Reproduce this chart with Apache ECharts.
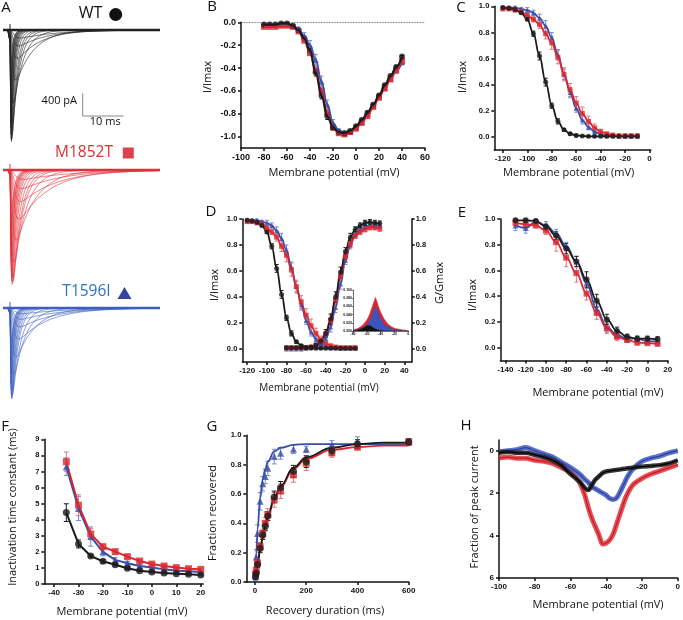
<!DOCTYPE html>
<html><head><meta charset="utf-8">
<script src="https://cdn.jsdelivr.net/npm/echarts@6/dist/echarts.min.js"></script>
<style>html,body{margin:0;padding:0;background:#fff}#c{width:683px;height:620px}</style>
</head><body><div id="c"></div>
<script>
// ---------- DATA ----------
// Panel B: I-V relationship (I/Imax)
const ivV  = [-80,-75,-70,-65,-60,-55,-50,-45,-40,-35,-30,-25,-20,-15,-10,-5,0,5,10,15,20,25,30,35,40];
const ivWT = [-0.02,-0.02,-0.02,-0.01,-0.01,-0.03,-0.07,-0.14,-0.25,-0.44,-0.64,-0.82,-0.92,-0.96,-0.97,-0.95,-0.91,-0.855,-0.79,-0.72,-0.64,-0.55,-0.47,-0.39,-0.30];
const ivM  = [-0.04,-0.04,-0.04,-0.03,-0.03,-0.04,-0.08,-0.16,-0.27,-0.42,-0.60,-0.79,-0.92,-0.97,-0.98,-0.96,-0.93,-0.88,-0.82,-0.74,-0.66,-0.58,-0.50,-0.42,-0.34];
const ivT  = [-0.02,-0.02,-0.02,-0.02,-0.02,-0.03,-0.06,-0.12,-0.20,-0.33,-0.52,-0.72,-0.88,-0.95,-0.97,-0.96,-0.92,-0.87,-0.80,-0.73,-0.65,-0.57,-0.49,-0.42,-0.35];
const ivWTe = [0.005,0.005,0.005,0.005,0.005,0.005,0.01,0.015,0.02,0.03,0.03,0.03,0.02,0.015,0.01,0.01,0.01,0.01,0.01,0.01,0.01,0.01,0.01,0.01,0.01];
const ivMe  = [0.01,0.01,0.01,0.01,0.01,0.01,0.01,0.02,0.02,0.03,0.03,0.03,0.02,0.015,0.015,0.015,0.015,0.015,0.015,0.015,0.015,0.015,0.015,0.015,0.015];
const ivTe  = [0.01,0.01,0.01,0.01,0.01,0.01,0.02,0.03,0.04,0.05,0.05,0.04,0.03,0.02,0.02,0.02,0.02,0.02,0.025,0.025,0.025,0.025,0.025,0.025,0.02];

// Panel C / D: steady-state inactivation
const inV  = [-120,-115,-110,-105,-100,-95,-90,-85,-80,-75,-70,-65,-60,-55,-50,-45,-40,-35,-30,-25,-20,-15,-10];
const inWT = [0.99,0.985,0.975,0.95,0.90,0.79,0.62,0.42,0.24,0.12,0.055,0.025,0.012,0.008,0.005,0.005,0.005,0.005,0.005,0.005,0.005,0.005,0.005];
const inM  = [0.98,0.98,0.97,0.96,0.93,0.90,0.86,0.79,0.72,0.61,0.48,0.36,0.26,0.18,0.12,0.07,0.04,0.025,0.015,0.01,0.01,0.01,0.01];
const inT  = [0.99,0.99,0.99,0.98,0.97,0.95,0.91,0.85,0.76,0.63,0.48,0.34,0.22,0.13,0.075,0.04,0.02,0.01,0.01,0.005,0.005,0.005,0.005];
const inWTe = [0.01,0.01,0.01,0.01,0.01,0.02,0.03,0.03,0.02,0.02,0.01,0.01,0.01,0.005,0.005,0.005,0.005,0.005,0.005,0.005,0.005,0.005,0.005];
const inMe  = [0.01,0.01,0.01,0.01,0.02,0.02,0.03,0.04,0.05,0.05,0.05,0.05,0.05,0.05,0.04,0.03,0.02,0.01,0.01,0.01,0.01,0.01,0.01];
const inTe  = [0.01,0.01,0.01,0.01,0.02,0.02,0.03,0.04,0.04,0.04,0.04,0.04,0.03,0.03,0.02,0.01,0.01,0.01,0.01,0.01,0.01,0.01,0.01];

// Panel D: activation (G/Gmax)
const actV  = [-80,-75,-70,-65,-60,-55,-50,-45,-40,-35,-30,-25,-20,-15,-10,-5,0,5,10,15];
const actWT = [0.01,0.01,0.01,0.01,0.01,0.015,0.03,0.06,0.12,0.23,0.40,0.59,0.75,0.86,0.92,0.95,0.97,0.975,0.97,0.965];
const actM  = [0.01,0.01,0.01,0.01,0.01,0.015,0.03,0.06,0.12,0.22,0.38,0.56,0.71,0.81,0.87,0.90,0.92,0.935,0.935,0.925];
const actT  = [0.0,0.0,0.0,0.0,0.005,0.01,0.02,0.04,0.08,0.17,0.32,0.50,0.68,0.80,0.88,0.92,0.94,0.95,0.95,0.95];
const actE  = [0.005,0.005,0.005,0.005,0.005,0.01,0.01,0.02,0.03,0.04,0.04,0.04,0.03,0.03,0.02,0.02,0.02,0.02,0.02,0.02];
// Inset: window current
const winV  = [-80,-75,-70,-65,-60,-57.5,-55,-52.5,-50,-47.5,-45,-42.5,-40,-35,-30,-25,-20,-15,-10,-5,0];
const winM  = [0.003,0.005,0.009,0.016,0.027,0.035,0.045,0.058,0.07,0.082,0.07,0.057,0.046,0.029,0.018,0.011,0.007,0.005,0.003,0.002,0.001];
const winT  = [0.001,0.002,0.004,0.008,0.015,0.02,0.028,0.037,0.048,0.062,0.05,0.039,0.03,0.017,0.01,0.006,0.003,0.002,0.001,0.0005,0];
const winWT = [0.001,0.002,0.004,0.008,0.013,0.016,0.013,0.01,0.007,0.005,0.003,0.002,0.001,0.0005,0,0,0,0,0,0,0];

// Panel E
const eV  = [-130,-120,-110,-100,-90,-80,-70,-60,-50,-40,-30,-20,-10,0,10];
const eWT = [0.99,0.99,0.985,0.94,0.87,0.77,0.67,0.53,0.365,0.22,0.13,0.085,0.07,0.07,0.065];
const eM  = [0.97,0.96,0.95,0.91,0.82,0.70,0.58,0.42,0.27,0.15,0.085,0.06,0.04,0.035,0.03];
const eT  = [0.95,0.93,0.98,0.95,0.89,0.79,0.67,0.50,0.30,0.16,0.10,0.07,0.07,0.05,0.05];
const eWTe = [0.01,0.01,0.01,0.02,0.03,0.04,0.04,0.06,0.05,0.04,0.03,0.02,0.02,0.02,0.02];
const eMe  = [0.02,0.02,0.02,0.03,0.07,0.07,0.07,0.05,0.05,0.04,0.03,0.02,0.02,0.01,0.01];
const eTe  = [0.04,0.04,0.02,0.03,0.03,0.03,0.04,0.04,0.04,0.04,0.03,0.02,0.02,0.02,0.03];

// Panel F: inactivation time constant (ms)
const fV  = [-35,-30,-25,-20,-15,-10,-5,0,5,10,15,20];
const fWT = [4.44,2.49,1.74,1.41,1.20,0.98,0.83,0.75,0.68,0.64,0.60,0.56];
const fM  = [7.61,4.90,3.11,2.32,2.01,1.70,1.43,1.24,1.12,1.02,0.95,0.91];
const fT  = [7.30,4.70,2.95,2.00,1.50,1.29,1.12,1.02,0.91,0.83,0.79,0.75];
const fWTe = [0.55,0.25,0.08,0.1,0.08,0.06,0.05,0.05,0.05,0.05,0.05,0.05];
const fMe  = [0.6,0.65,0.35,0.15,0.15,0.12,0.1,0.1,0.1,0.1,0.1,0.08];
const fTe  = [0.55,0.75,0.6,0.25,0.15,0.12,0.1,0.1,0.08,0.08,0.08,0.08];

// Panel G: recovery from inactivation
const gT  = [2,5,10,20,30,40,50,75,100,150,200,300,400,600];
const gWT = [0.035,0.06,0.12,0.23,0.32,0.38,0.45,0.58,0.645,0.755,0.82,0.895,0.94,0.955];
const gM  = [0.05,0.08,0.13,0.24,0.33,0.40,0.46,0.56,0.62,0.73,0.81,0.88,0.92,0.955];
const gTr = [0.04,0.17,0.33,0.55,0.67,0.72,0.775,0.855,0.877,0.905,0.905,0.934,0.96,0.955];
const gWTe = [0.01,0.02,0.02,0.03,0.03,0.03,0.03,0.04,0.04,0.04,0.04,0.03,0.03,0.02];
const gMe  = [0.01,0.02,0.02,0.03,0.03,0.04,0.04,0.05,0.05,0.05,0.05,0.03,0.02,0.02];
const gTre = [0.03,0.05,0.06,0.06,0.05,0.05,0.05,0.05,0.04,0.03,0.02,0.03,0.03,0.02];
const gFitT  = [0,5,10,20,30,40,50,75,100,150,200,300,400,500,600];
const gFitWT = [0.02,0.07,0.12,0.22,0.30,0.38,0.45,0.57,0.655,0.78,0.85,0.915,0.94,0.95,0.95];
const gFitM  = [0.03,0.08,0.13,0.22,0.30,0.37,0.44,0.56,0.645,0.77,0.84,0.90,0.92,0.93,0.93];
const gFitTr = [0.02,0.20,0.36,0.57,0.70,0.77,0.82,0.89,0.915,0.935,0.94,0.94,0.94,0.94,0.94];

// Panel H: ramp currents (fraction of peak current)
const hV  = [-100,-95,-90,-85,-80,-75,-70,-65,-60,-55,-52,-50,-48,-46,-44,-42,-40,-38,-36,-34,-32,-30,-28,-25,-20,-15,-10,-5,0];
const hWT = [0.1,0.05,0.1,0.1,0.2,0.3,0.45,0.7,1.1,1.45,1.75,1.85,1.6,1.35,1.2,1.05,0.98,0.95,0.92,0.9,0.88,0.85,0.83,0.8,0.75,0.72,0.68,0.6,0.45];
const hM  = [0.35,0.3,0.35,0.35,0.45,0.5,0.6,0.8,1.0,1.5,2.1,2.7,3.2,3.6,4.0,4.4,4.35,4.2,3.9,3.4,2.9,2.4,2.0,1.6,1.3,1.1,0.95,0.8,0.65];
const hT  = [0.05,0.0,-0.05,-0.15,0.0,0.15,0.3,0.55,0.8,1.1,1.35,1.5,1.7,1.8,1.9,2.0,2.1,2.25,2.3,2.2,1.9,1.55,1.2,0.85,0.5,0.35,0.25,0.1,0.0];

// Panel A: step voltages used for the trace families, decay extensions outside F range
const trV = [-50,-45,-40,-35,-30,-25,-20,-15,-10,-5,0,5,10,15,20,25,30,35,40];
const tauLoWT = [9,7,5.8], tauHiWT = [0.54,0.52,0.5,0.48];
const tauLoM  = [12,10,9],  tauHiM  = [0.88,0.86,0.84,0.82];
const tauLoT  = [11,9.5,8.5], tauHiT = [0.72,0.7,0.68,0.66];
const peakPA = [2030, 2070, 1670]; // WT, M1852T, T1596I

// ---------- STYLE ----------
const K='#1b1b1b', R='#d9282f', B='#3a4ea8', RE='#e4757c', BE='#6f8ed6';
const TF='Liberation Sans, Arial, sans-serif', NF='Open Sans, sans-serif';

const grids = [
 {left:3, top:18.6, width:157, height:136.4},
 {left:3, top:158.6, width:157, height:136.4},
 {left:3, top:296.6, width:157, height:136.4},
 {left:241, top:22.3, width:184, height:125.8},
 {left:494.3, top:6.3, width:156.5, height:143.8},
 {left:242.3, top:219, width:169.4, height:143},
 {left:353, top:290, width:55.3, height:41},
 {left:500.3, top:219, width:167.4, height:141.6},
 {left:44.3, top:439.3, width:158.9, height:144.7},
 {left:246.3, top:435.3, width:162.4, height:146.7},
 {left:499, top:440.1, width:182.7, height:137.9}
];

function ax(kind, gi, min, max, vals, o) {
  o = o || {};
  const lw = o.lw || 1.5;
  const a = {type:'value', gridIndex:gi, min:min, max:max, inverse:!!o.inv,
    axisLine:{show:!o.hide, onZero:false, lineStyle:{color:'#111', width:lw}},
    axisTick:{show:!o.hide, length:o.tl||3, customValues:vals, lineStyle:{color:'#111', width:lw}},
    axisLabel:{show:!o.hide, customValues:vals, formatter:o.fmt||(v=>String(v)), fontSize:o.fs||8,
      fontWeight:'bold', color:'#111', fontFamily:TF, margin:o.m||4},
    splitLine:{show:false}};
  if (o.pos) a.position = o.pos;
  return a;
}
const f1 = v=>v.toFixed(1), f3=v=>v.toFixed(3);
const r = (a,b,s)=>{const out=[];for(let v=a;v<=b+1e-9;v+=s) out.push(+v.toFixed(4));return out;};

const xAxis = [
  ax('x',0,-1.75,37.5,[],{hide:true}),
  ax('x',1,-1.75,37.5,[],{hide:true}),
  ax('x',2,-1.75,37.5,[],{hide:true}),
  ax('x',3,-100,60,r(-100,60,20),{fs:9,m:5}),
  ax('x',4,-127,1,r(-120,0,20),{fs:8,m:5}),
  ax('x',5,-125,47.5,r(-120,40,20),{fs:8,m:5}),
  ax('x',6,-80,0,r(-80,0,20),{fs:3.5,m:1,lw:0.6,tl:1.2}),
  ax('x',7,-145,20,r(-140,20,20),{fs:8,m:5}),
  ax('x',8,-44,21,r(-40,20,10),{fs:8,m:5}),
  ax('x',9,-34,600,[0,200,400,600],{fs:8,m:5}),
  ax('x',10,-100,0,r(-100,0,20),{fs:8,m:5})
];
const yAxis = [
  ax('y',0,-2200,200,[],{hide:true}),
  ax('y',1,-2200,200,[],{hide:true}),
  ax('y',2,-2200,200,[],{hide:true}),
  ax('y',3,-1.1,0,r(-1,0,0.2),{fs:9,m:5,fmt:f1}),
  ax('y',4,-0.1,1,r(0,1,0.2),{fs:7.5,m:5,fmt:f1}),
  ax('y',5,-0.1,1,r(0,1,0.2),{fs:7.5,m:5,fmt:f1}),
  ax('y',6,0,0.1,r(0,0.1,0.02),{fs:3.5,m:1,lw:0.6,tl:1.2,fmt:f3}),
  ax('y',7,-0.1,1,r(0,1,0.2),{fs:7.5,m:5,fmt:f1}),
  ax('y',8,0,9,r(0,9,1),{fs:7.5,m:5}),
  ax('y',9,0,1,r(0,1,0.2),{fs:7.5,m:5,fmt:f1}),
  ax('y',10,-0.5,6,[0,2,4,6],{fs:8,m:5,inv:true}),
  ax('y',5,-0.1,1,r(0,1,0.2),{fs:7.5,m:4,fmt:f1,pos:'right'})
];

const S = [];
function pts(gi, xs, ys, sym, color, size, yi) {
  S.push({type:'scatter', xAxisIndex:gi, yAxisIndex:(yi==null?gi:yi), symbol:sym, symbolSize:size,
    itemStyle:{color:color}, data:xs.map((x,i)=>[x,ys[i]]), z:4, silent:true});
}
function line(gi, xs, ys, color, w, o) {
  o=o||{};
  const s = {type:'line', xAxisIndex:gi, yAxisIndex:(o.yi==null?gi:o.yi), showSymbol:false, symbol:'none',
    smooth:o.smooth||false, lineStyle:{color:color, width:w, opacity:(o.op==null?1:o.op)},
    data:xs.map((x,i)=>[x,ys[i]]), z:(o.z==null?3:o.z), silent:true};
  if (o.mono) s.smoothMonotone = o.mono;
  if (o.area) s.areaStyle = {color:o.area, opacity:1};
  if (o.mark) s.markLine = o.mark;
  S.push(s);
}
function err(gi, xs, ys, es, color, cap, yi) {
  S.push({type:'custom', xAxisIndex:gi, yAxisIndex:(yi==null?gi:yi), z:2, silent:true,
    renderItem:function(p, api){
      const x=api.value(0), y=api.value(1), e=api.value(2);
      const a=api.coord([x,y+e]), b=api.coord([x,y-e]);
      const st={stroke:color, lineWidth:1};
      return {type:'group', children:[
        {type:'line', shape:{x1:a[0],y1:a[1],x2:b[0],y2:b[1]}, style:st},
        {type:'line', shape:{x1:a[0]-cap,y1:a[1],x2:a[0]+cap,y2:a[1]}, style:st},
        {type:'line', shape:{x1:b[0]-cap,y1:b[1],x2:b[0]+cap,y2:b[1]}, style:st}]};
    },
    data:xs.map((x,i)=>[x,ys[i],es[i]])});
}

// ---- Panel A: current trace families ----
const tS=[]; for(let t=-1.75;t<=37.5+1e-9;t+=(t<6?0.05:0.25)) tS.push(+t.toFixed(3));
function traces(gi, iv, taus, imax, color) {
  trV.forEach((v,k)=>{
    const depth = -iv[ivV.indexOf(v)]*imax;
    const td = taus[k], tr = 0.12*Math.pow(td,0.8);
    const shp = tS.map(t=> t<=0?0:Math.pow(1-Math.exp(-t/tr),3)*Math.exp(-t/td));
    const mx = Math.max.apply(null, shp);
    line(gi, tS, shp.map(s=>-depth*s/mx), color, 0.6, {z:2});
  });
  line(gi, [-1.75,37.5], [0,0], color, 2.4, {z:3});
}
traces(0, ivWT, tauLoWT.concat(fWT, tauHiWT), peakPA[0], '#222');
traces(1, ivM,  tauLoM.concat(fM, tauHiM),  peakPA[1], '#e0303a');
traces(2, ivT,  tauLoT.concat(fT, tauHiT),  peakPA[2], '#3f5fc0');

// ---- Panel B ----
err(3, ivV, ivT, ivTe, BE, 2); err(3, ivV, ivM, ivMe, RE, 2); err(3, ivV, ivWT, ivWTe, K, 2);
pts(3, ivV, ivT, 'triangle', B, 6);
pts(3, ivV, ivM, 'rect', R, 6);
line(3, ivV, ivT, B, 2, {smooth:0.4, mono:'x', z:5});
line(3, ivV, ivM, R, 2, {smooth:0.4, mono:'x', z:5});
pts(3, ivV, ivWT, 'circle', K, 6);
line(3, ivV, ivWT, K, 2.2, {smooth:0.4, mono:'x', z:5,
  mark:{symbol:'none', silent:true, label:{show:false}, data:[{yAxis:0}], lineStyle:{type:'dotted', color:'#444', width:0.8}}});

// ---- Panel C ----
err(4, inV, inT, inTe, BE, 2); err(4, inV, inM, inMe, RE, 2); err(4, inV, inWT, inWTe, K, 2);
line(4, inV, inT, B, 1.8, {smooth:0.4, mono:'x'});
line(4, inV, inM, R, 1.8, {smooth:0.4, mono:'x'});
line(4, inV, inWT, K, 1.8, {smooth:0.4, mono:'x'});
pts(4, inV, inT, 'triangle', B, 5);
pts(4, inV, inM, 'rect', R, 5);
pts(4, inV, inWT, 'circle', K, 5);

// ---- Panel D ----
err(5, inV, inT, inTe, BE, 2); err(5, inV, inM, inMe, RE, 2); err(5, inV, inWT, inWTe, K, 2);
err(5, actV, actT, actE, BE, 2); err(5, actV, actM, actE, RE, 2); err(5, actV, actWT, actE, K, 2);
line(5, inV, inT, B, 1.8, {smooth:0.4, mono:'x'});
line(5, inV, inM, R, 1.8, {smooth:0.4, mono:'x'});
line(5, inV, inWT, K, 1.8, {smooth:0.4, mono:'x'});
line(5, actV, actT, B, 1.8, {smooth:0.4, mono:'x'});
line(5, actV, actM, R, 1.8, {smooth:0.4, mono:'x'});
line(5, actV, actWT, K, 1.8, {smooth:0.4, mono:'x'});
pts(5, inV, inT, 'triangle', B, 5); pts(5, actV, actT, 'triangle', B, 5);
pts(5, inV, inM, 'rect', R, 5);     pts(5, actV, actM, 'rect', R, 5);
pts(5, inV, inWT, 'circle', K, 5);  pts(5, actV, actWT, 'circle', K, 5);
// inset
line(6, winV, winM, R, 0.5, {area:R});
line(6, winV, winT, B, 0.5, {area:'#3e54b8'});
line(6, winV, winWT, K, 0.5, {area:'#111'});

// ---- Panel E ----
err(7, eV, eT, eTe, BE, 2); err(7, eV, eM, eMe, RE, 2); err(7, eV, eWT, eWTe, K, 2);
line(7, eV, eT, B, 1.8, {smooth:0.4, mono:'x'});
line(7, eV, eM, R, 1.8, {smooth:0.4, mono:'x'});
line(7, eV, eWT, K, 1.8, {smooth:0.4, mono:'x'});
pts(7, eV, eT, 'triangle', B, 6);
pts(7, eV, eM, 'rect', R, 6);
pts(7, eV, eWT, 'circle', K, 6);

// ---- Panel F ----
err(8, fV, fT, fTe, BE, 2.5); err(8, fV, fM, fMe, RE, 2.5); err(8, fV, fWT, fWTe, K, 2.5);
line(8, fV, fT, B, 2); line(8, fV, fM, R, 2); line(8, fV, fWT, K, 2);
pts(8, fV, fT, 'triangle', B, 7);
pts(8, fV, fM, 'rect', R, 7);
pts(8, fV, fWT, 'circle', K, 7);

// ---- Panel G ----
err(9, gT, gTr, gTre, BE, 2.5); err(9, gT, gM, gMe, RE, 2.5); err(9, gT, gWT, gWTe, K, 2.5);
line(9, gFitT, gFitTr, B, 1.8, {smooth:0.4, mono:'x'});
line(9, gFitT, gFitM, R, 1.8, {smooth:0.4, mono:'x'});
line(9, gFitT, gFitWT, K, 1.8, {smooth:0.4, mono:'x'});
pts(9, gT, gTr, 'triangle', B, 7);
pts(9, gT, gM, 'rect', R, 7);
pts(9, gT, gWT, 'circle', K, 7);

// ---- Panel H ----
line(10, hV, hM, '#e0303a', 5, {smooth:0.3, op:0.85});
line(10, hV, hM, '#c81a24', 1.2, {smooth:0.3});
line(10, hV, hT, '#4058c4', 5, {smooth:0.3, op:0.85});
line(10, hV, hT, '#2c3f9e', 1.2, {smooth:0.3});
line(10, hV, hWT, '#222', 4.5, {smooth:0.3, op:0.9});
line(10, hV, hWT, '#000', 1.2, {smooth:0.3});

// ---------- GRAPHIC (labels, names) ----------
const G = [];
function txt(s, x, y, o) {
  o=o||{};
  G.push({type:'text', x:x, y:y, rotation:o.rot||0, z:10, silent:true,
    style:{text:s, x:0, y:0, fill:o.color||'#111', font:(o.w||'normal')+' '+(o.fs||11)+'px '+(o.ff||NF),
      textAlign:o.align||'center', textVerticalAlign:'middle'}});
}
function yname(s, x, y, fs) { txt(s, x, y, {rot:Math.PI/2, fs:fs||11}); }
// panel letters
[['A',6,8],['B',212,7],['C',461,8],['D',211,212],['E',462,213],['F',5,427],['G',212,427],['H',466,426]]
  .forEach(l=>txt(l[0], l[1], l[2], {fs:15}));
// A legends
txt('WT', 90.5, 13.5, {fs:16});
G.push({type:'circle', shape:{cx:115.7, cy:14.5, r:6.5}, style:{fill:'#111'}, z:10});
txt('M1852T', 84, 153, {fs:15.5, color:'#d63036'});
G.push({type:'rect', shape:{x:122.8, y:147.5, width:11, height:11}, style:{fill:'#d9444c'}, z:10});
txt('T1596I', 86.5, 291.7, {fs:15.5, color:'#2f72b8'});
G.push({type:'polygon', shape:{points:[[124.5,287],[131.5,299],[117.5,299]]}, style:{fill:'#34459c'}, z:10});
// scale bar
G.push({type:'polyline', shape:{points:[[82.7,93.3],[82.7,116],[123.3,116]]}, style:{stroke:'#888', lineWidth:1, fill:null}, z:10});
txt('400 pA', 77, 100.5, {fs:11, align:'right'});
txt('10 ms', 105.2, 121.5, {fs:11});
// stimulus artifacts
[[30,'#222'],[170,'#e0303a'],[308,'#3f5fc0']].forEach(a=>{
  G.push({type:'line', shape:{x1:10,y1:a[0]-6,x2:10,y2:a[0]+6}, style:{stroke:a[1], lineWidth:1}, z:10});
});
// axis names
txt('Membrane potential (mV)', 334, 173);      yname('I/Imax', 207.7, 77);
txt('Membrane potential (mV)', 568.7, 173);    yname('I/Imax', 462.7, 77);
txt('Membrane potential (mV)', 319, 388, {fs:10}); yname('I/Imax', 215, 285); yname('G/Gmax', 440, 283);
txt('Membrane potential (mV)', 598, 393);      yname('I/Imax', 473, 295);
txt('Membrane potential (mV)', 122, 612);      yname('Inactivation time constant (ms)', 13, 507);
txt('Recovery duration (ms)', 325, 611);       yname('Fraction recovered', 213, 513);
txt('Membrane potential (mV)', 598, 605);      yname('Fraction of peak current', 475, 507);

const chart = echarts.init(document.getElementById('c'), null, {renderer:'canvas', width:683, height:620});
chart.setOption({animation:false, backgroundColor:'#fff', grid:grids, xAxis:xAxis, yAxis:yAxis, series:S, graphic:G});
</script></body></html>
